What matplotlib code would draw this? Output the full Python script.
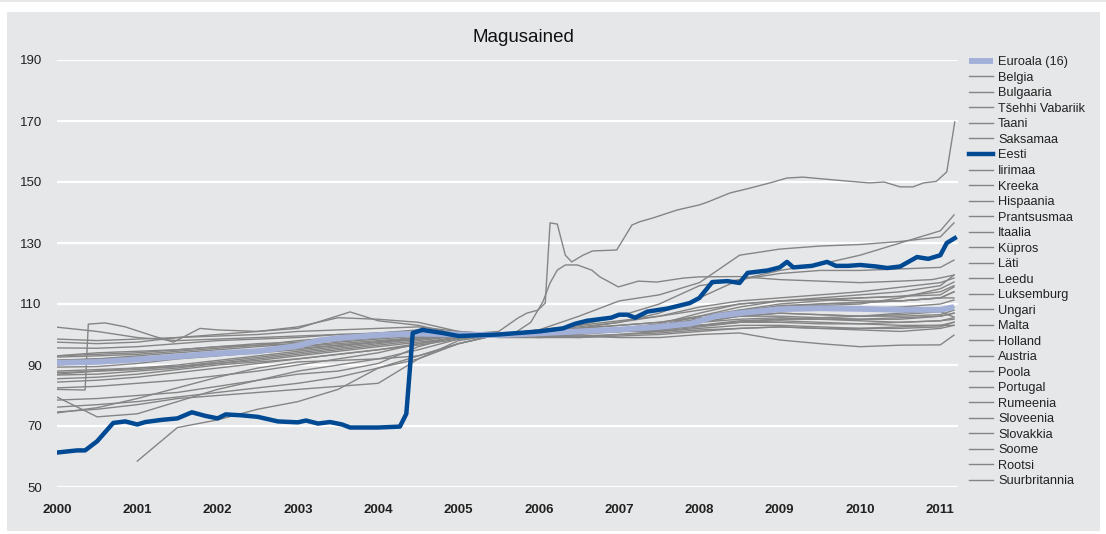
import numpy as np
import matplotlib
matplotlib.use("Agg")
import matplotlib.pyplot as plt
from matplotlib.patches import Rectangle

plt.rcParams['font.family'] = ['Liberation Sans', 'DejaVu Sans']

title = "Magusained"
year_ticks = list(range(2000, 2012))
y_ticks = [50, 70, 90, 110, 130, 150, 170, 190]

# Half-year grid used for most gray country lines
T = [2000.0, 2000.5, 2001.0, 2001.5, 2002.0, 2002.5, 2003.0, 2003.5, 2004.0, 2004.5,
     2005.0, 2005.5, 2006.0, 2006.5, 2007.0, 2007.5, 2008.0, 2008.5, 2009.0, 2009.5,
     2010.0, 2010.5, 2011.0, 2011.17]

euro_t = [2000.0, 2000.5, 2001.0, 2001.5, 2002.0, 2002.5, 2003.0, 2003.25, 2003.5, 2004.0,
          2004.5, 2005.0, 2005.5, 2006.0, 2006.5, 2007.0, 2007.5, 2007.9, 2008.2, 2008.5,
          2009.0, 2009.5, 2010.0, 2010.5, 2011.0, 2011.17]
euro_v = [90.7, 91.0, 91.8, 92.8, 93.8, 94.5, 96.3, 98.0, 98.8, 99.8,
          100.3, 100.0, 99.8, 100.4, 101.0, 101.6, 102.5, 103.6, 106.0, 107.0,
          108.3, 108.6, 108.4, 108.1, 108.1, 109.0]

eesti_t = [2000.0, 2000.25, 2000.35, 2000.5, 2000.6, 2000.7, 2000.85, 2001.0, 2001.1, 2001.3,
           2001.5, 2001.68, 2001.85, 2002.0, 2002.1, 2002.3, 2002.5, 2002.75, 2003.0, 2003.1,
           2003.25, 2003.4, 2003.55, 2003.65, 2004.0, 2004.27, 2004.35, 2004.43, 2004.55, 2004.8,
           2005.0, 2005.3, 2005.5, 2006.0, 2006.3, 2006.45, 2006.6, 2006.9, 2007.0, 2007.1,
           2007.2, 2007.35, 2007.6, 2007.88, 2008.0, 2008.16, 2008.35, 2008.5, 2008.6, 2008.85,
           2009.0, 2009.09, 2009.17, 2009.4, 2009.59, 2009.7, 2009.85, 2010.0, 2010.2, 2010.34,
           2010.5, 2010.71, 2010.85, 2011.0, 2011.08, 2011.18]
eesti_v = [61.3, 62.0, 62.0, 65.0, 68.0, 71.0, 71.5, 70.5, 71.3, 72.0,
           72.5, 74.5, 73.3, 72.5, 73.8, 73.5, 73.0, 71.5, 71.2, 71.8,
           70.8, 71.3, 70.5, 69.5, 69.5, 69.8, 74.0, 100.5, 101.5, 100.5,
           99.5, 99.8, 100.0, 101.0, 102.0, 103.5, 104.5, 105.5, 106.5, 106.5,
           105.5, 107.5, 108.5, 110.3, 112.0, 117.2, 117.5, 116.9, 120.2, 121.0,
           122.0, 123.8, 122.0, 122.5, 123.8, 122.5, 122.5, 122.8, 122.3, 121.8,
           122.3, 125.4, 124.8, 126.0, 130.0, 131.6]

gray_vals = {
    "Belgia":      [102.4, 101, 99, 98, 98.5, 99, 99.5, 100, 100.5, 101, 100, 99.5, 99, 99, 99.5, 100, 101, 102, 102.5, 102, 101.5, 101, 102, 103],
    "Bulgaaria":   [97.5, 97, 97.5, 99, 100, 101, 102.5, 105.5, 105, 104, 101, 100, 100, 101, 102, 103, 105, 107, 109, 110, 110.5, 111, 112, 114],
    "Tšehhi Vabariik": [95.6, 95.5, 96, 97, 98, 98.5, 99, 100, 100, 101, 100, 99, 99, 99.5, 100, 100.5, 101.5, 102, 102.5, 102, 102, 102.5, 103, 104],
    "Taani":       [92.6, 93, 93.5, 94.5, 95.5, 96.5, 98, 99, 100.5, 101.5, 100.5, 100, 100.5, 101, 101.5, 103, 106, 109, 111, 111.5, 112, 112.5, 114, 116],
    "Saksamaa":    [91.6, 92, 92.5, 93, 94, 95, 96, 97.5, 98.5, 99.5, 100, 100, 101, 101.5, 102, 102.5, 104, 105, 105.5, 105, 104.5, 104, 104.5, 105.5],
    "Iirimaa":     [89.3, 89.5, 90.5, 92, 93, 94, 95, 96.5, 97.5, 98.5, 99.5, 100, 100.5, 101, 102, 103.5, 107, 110, 111, 111.5, 111, 111, 112, 112],
    "Kreeka":      [88, 88.5, 89, 89.5, 90.5, 91.5, 93, 94.5, 96, 97.5, 99, 100, 100, 99.5, 99, 99, 100, 100.5, 98.2, 97, 96, 96.5, 96.6, 99.8],
    "Hispaania":   [86.7, 87, 88, 89, 90.5, 92, 93.5, 95, 96.5, 98, 99.5, 100, 101, 102, 104, 107, 112, 118, 120, 121, 121, 121.5, 122, 124.4],
    "Prantsusmaa": [84.4, 85, 86, 87.5, 89, 90.5, 92, 93.5, 95, 97, 99, 100, 101, 101.5, 102, 103, 105, 107, 108, 108.5, 108.5, 109, 110, 111.3],
    "Itaalia":     [82.5, 83, 84, 85, 86.5, 88, 90, 92, 94, 97, 99, 100, 100.5, 101, 101, 102, 104, 106, 107, 106.5, 106, 106, 106.5, 108],
    "Küpros":      [79.5, 73, 74, 78, 82, 85, 88, 90, 92, 95, 98.5, 100, 100.5, 101, 102, 103, 105, 108, 110, 111, 112, 112.5, 113, 115.6],
    "Läti":        [78.5, 79, 80, 81, 83, 85, 87, 88, 90.5, 96, 99.5, 100, 100, 100.5, 101, 101, 102, 103, 103, 102.5, 102, 102, 102.5, 104.1],
    "Leedu":       [76.2, 77, 78, 79.5, 81, 82.5, 84, 86, 89, 93, 97, 100, 101, 102, 103, 104, 106, 108, 109, 109.5, 110, 112, 115, 117.2],
    "Luksemburg":  [74.6, 75.5, 77, 79, 80, 81, 82, 83, 84, 92, 98, 100, 101, 101.5, 101.5, 102, 104, 106, 107, 106.5, 106, 106.5, 107.5, 105.7],
    "Ungari":      [74.3, 76, 79, 82.5, 86, 89, 91, 91.5, 92, 93, 97, 100, 100, 100.5, 101, 101.5, 103, 104, 104.5, 104, 103.5, 103, 103, 103],
    "Malta":       [np.nan, np.nan, 58.5, 69.5, 72, 75.5, 78, 82, 89, 92, 97, 100, 101.5, 103, 104.5, 106, 109, 111, 112, 113, 114, 115.5, 117, 118.5],
    "Holland":     [93, 93.5, 94, 95, 96, 97, 97.5, 98, 99, 100, 100.5, 100, 99.5, 99, 100, 101, 102.5, 104, 105, 105.5, 106, 107, 108, 109],
    "Austria":     [85.5, 86, 87, 88.5, 90, 91, 92, 93.5, 95, 96.5, 98.5, 100, 101, 102.5, 104, 106, 108, 110, 111, 112, 113, 114, 116, 119.5],
    "Poola":       [90, 91, 92, 93, 94, 95, 96, 97, 98, 99, 100, 100, 101, 103, 106, 110, 116, 118, 121, 123, 126, 130, 134, 139.2],
    "Portugal":    [87, 88, 89, 90, 91.5, 93, 94.5, 96, 97.5, 99, 100, 100, 101.5, 106, 111, 113, 117, 126, 128, 129, 129.5, 130.5, 132, 136.6],
    "Rumeenia":    [98.5, 98, 98.5, 99, 99.5, 100, 101, 101.5, 102, 102.5, 101, 100, 99.5, 100, 101, 101.5, 103, 104.5, 105, 105, 105, 105.5, 106, 107],
    "Sloveenia":   [90.5, 91, 91.5, 92.5, 93.5, 94.5, 95.5, 96.5, 97.5, 99, 100, 100, 100, 100.5, 101.5, 102.5, 105, 107.5, 109.5, 110, 110.5, 111, 112, 114],
    "Slovakkia":   [87.5, 88, 88.5, 89.5, 91, 92.5, 94, 95.5, 97, 98.5, 99.5, 100, 100.5, 101, 101, 101.5, 103, 104, 104, 103.5, 103.5, 104, 104.5, 105],
}

# Lines with their own dates
soome_t = [2000.0, 2000.5, 2001.0, 2001.5, 2002.0, 2002.5, 2003.0, 2003.5, 2004.0, 2004.5,
           2005.0, 2005.5, 2005.74, 2005.85, 2005.99, 2006.08, 2006.14, 2006.23, 2006.33, 2006.41,
           2006.55, 2006.67, 2006.97, 2007.16, 2007.26, 2007.42, 2007.72, 2008.0, 2008.1, 2008.38,
           2008.63, 2008.92, 2009.09, 2009.29, 2009.54, 2009.84, 2010.12, 2010.3, 2010.5, 2010.66,
           2010.79, 2010.95, 2011.08, 2011.18]
soome_v = [93, 94, 94.5, 95, 96, 96.5, 97, 98, 99, 100,
           100, 101, 105.4, 107, 108, 110.3, 136.6, 136.2, 126, 123.8,
           126, 127.4, 127.7, 135.9, 137, 138.2, 140.8, 142.5, 143.4, 146.4,
           148, 150, 151.3, 151.6, 151, 150.3, 149.7, 150, 148.4, 148.4,
           149.7, 150.2, 153.3, 169.7]

rootsi_t = [2000.0, 2000.5, 2001.0, 2001.5, 2002.0, 2002.5, 2003.0, 2003.5, 2004.0, 2004.5,
            2005.0, 2005.5, 2005.7, 2005.9, 2006.05, 2006.14, 2006.23, 2006.33, 2006.48, 2006.66,
            2006.76, 2006.99, 2007.24, 2007.47, 2007.8, 2008.0, 2008.5, 2009.0, 2009.5, 2010.0,
            2010.5, 2010.9, 2011.17]
rootsi_v = [91.5, 92, 93, 94, 95, 96, 97, 98, 99, 100,
            100, 100, 100.5, 104, 110.7, 116.9, 121.1, 122.8, 122.8, 121.1,
            118.9, 115.6, 117.5, 117.2, 118.5, 118.9, 119, 118, 117.5, 117,
            117.5, 118, 119.5]

uk_t = [2000.0, 2000.35, 2000.39, 2000.6, 2000.85, 2001.2, 2001.45, 2001.78, 2002.0, 2002.5,
        2003.0, 2003.65, 2004.0, 2004.5, 2005.0, 2005.5, 2006.0, 2006.5, 2007.0, 2007.5,
        2008.0, 2008.5, 2009.0, 2009.5, 2010.0, 2010.5, 2011.0, 2011.17]
uk_v = [82, 81.8, 103.4, 103.8, 102.5, 99.5, 97.5, 102, 101.5, 101,
        102, 107.4, 104.5, 103, 100, 100, 101, 102, 103, 104,
        105.5, 106, 106, 105.5, 105, 105, 106, 107]

legend_order = ["Euroala (16)", "Belgia", "Bulgaaria", "Tšehhi Vabariik", "Taani", "Saksamaa",
                "Eesti", "Iirimaa", "Kreeka", "Hispaania", "Prantsusmaa", "Itaalia", "Küpros",
                "Läti", "Leedu", "Luksemburg", "Ungari", "Malta", "Holland", "Austria", "Poola",
                "Portugal", "Rumeenia", "Sloveenia", "Slovakkia", "Soome", "Rootsi", "Suurbritannia"]

BG = "#e6e7e9"
GRAY = "#858585"
EESTI_C = "#004a94"
EURO_C = "#a2b0d8"

W, H = 1106, 534
fig = plt.figure(figsize=(W / 100, H / 100), dpi=100, facecolor="white")
fig.patches.append(Rectangle((7 / W, 3 / H), (1100 - 7) / W, 1 - 15 / H, transform=fig.transFigure,
                             facecolor=BG, edgecolor="none", zorder=-10))
fig.patches.append(Rectangle((0, 1 - 2 / H), 1, 2 / H, transform=fig.transFigure,
                             facecolor=BG, edgecolor="none", zorder=-10))

ax = fig.add_axes([57 / W, (H - 487) / H, (958 - 57) / W, (487 - 60) / H])
ax.set_facecolor(BG)
ax.set_xlim(2000, 2011.22)
ax.set_ylim(50, 190)
for s in ax.spines.values():
    s.set_visible(False)
ax.set_yticks(y_ticks)
ax.set_xticks(year_ticks)
ax.set_xticklabels([str(y) for y in year_ticks], fontweight="bold", fontsize=9.5, color="#222222")
ax.set_yticklabels([str(v) for v in y_ticks], fontsize=9.5, color="#222222")
ax.tick_params(axis="both", length=0)
ax.tick_params(axis="x", pad=12)
ax.tick_params(axis="y", pad=11)
ax.grid(axis="y", color="white", linewidth=1.6)
ax.set_axisbelow(True)

handles = {}
for name, vals in gray_vals.items():
    l, = ax.plot(T, vals, color=GRAY, lw=1.0, label=name, zorder=2)
    handles[name] = l
handles["Soome"], = ax.plot(soome_t, soome_v, color=GRAY, lw=1.0, label="Soome", zorder=2)
handles["Rootsi"], = ax.plot(rootsi_t, rootsi_v, color=GRAY, lw=1.0, label="Rootsi", zorder=2)
handles["Suurbritannia"], = ax.plot(uk_t, uk_v, color=GRAY, lw=1.0, label="Suurbritannia", zorder=2)
handles["Euroala (16)"], = ax.plot(euro_t, euro_v, color=EURO_C, lw=4.2, label="Euroala (16)",
                                   zorder=3, solid_capstyle="butt")
handles["Eesti"], = ax.plot(eesti_t, eesti_v, color=EESTI_C, lw=3.2, label="Eesti", zorder=4,
                            solid_joinstyle="round")

leg = fig.legend([handles[n] for n in legend_order], legend_order, loc="upper left",
                 bbox_to_anchor=(963 / W, 1 - 50 / H), frameon=False, fontsize=9.2,
                 handlelength=1.85, handletextpad=0.4, labelspacing=0.275, borderpad=0)
for t in leg.get_texts():
    t.set_color("#222222")

fig.text(523 / W, 1 - 38 / H, title, ha="center", va="center", fontsize=13.5, color="#111111")

fig.savefig("out.png", dpi=100, facecolor="white")
